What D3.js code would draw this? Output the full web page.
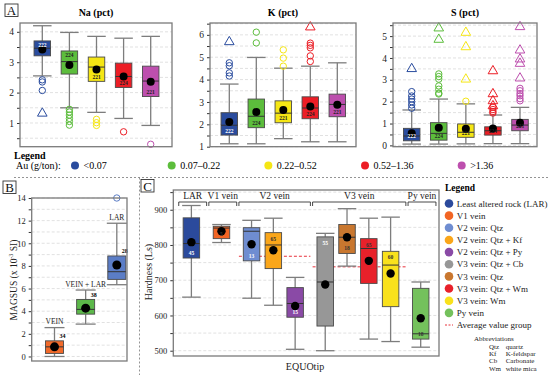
<!DOCTYPE html>
<html>
<head>
<meta charset="utf-8">
<script src="https://cdn.jsdelivr.net/npm/d3@7"></script>
<style>
  body { margin: 0; background: #fff; }
</style>
</head>
<body>
<div id="chart"></div>
<script>
// ---- panel A: geochemistry by Au class ----
const auClasses = ['<0.07', '0.07–0.22', '0.22–0.52', '0.52–1.36', '>1.36']
const auColors = ['#2a4c9e', '#5cbd3c', '#f5e614', '#ec1d25', '#bd4fae']
const auCounts = [222, 224, 221, 224, 221]

// [whisker low, Q1, median, Q3, whisker high, mean]
const naStats = [
  [2.55, 3.21, 3.46, 3.70, 4.20, 3.42],
  [1.50, 2.61, 3.02, 3.37, 3.98, 2.91],
  [1.35, 2.37, 2.84, 3.17, 3.85, 2.76],
  [1.15, 2.17, 2.53, 2.97, 3.79, 2.53],
  [0.92, 1.87, 2.38, 2.87, 3.85, 2.36]
]
const naOutliers = [[2.42, 2.35, 2.07], [1.45, 1.36, 1.26, 1.15, 1.05, 0.93], [1.12, 1.01, 0.92], [0.71], [0.30]]
const naExtremes = [[1.35], [], [], [], []]

const kStats = [
  [1.13, 1.52, 1.96, 2.52, 3.80, 2.10],
  [1.13, 1.85, 2.36, 3.13, 4.99, 2.55],
  [1.36, 2.07, 2.50, 3.05, 4.51, 2.64],
  [1.22, 2.25, 2.73, 3.23, 4.60, 2.80],
  [1.22, 2.34, 2.89, 3.35, 4.75, 2.87]
]
const kOutliers = [[4.75, 4.62, 4.30, 4.16], [6.12, 5.64], [5.33, 4.96, 4.60], [5.63, 5.53, 5.42, 5.06, 4.81], []]
const kExtremes = [[5.73], [], [], [6.39], []]

const sStats = [
  [0.06, 0.21, 0.43, 0.78, 1.62, 0.55],
  [0.06, 0.24, 0.55, 1.04, 2.12, 0.81],
  [0.07, 0.37, 0.60, 0.98, 1.90, 0.76],
  [0.08, 0.47, 0.67, 0.85, 1.39, 0.77],
  [0.08, 0.67, 0.93, 1.19, 1.74, 1.04]
]
const sOutliers = [[2.46, 2.26, 2.12, 2.00, 1.85, 1.70], [3.27, 3.15, 3.03, 2.72, 2.57, 2.39, 2.35], [2.02],
  [1.74, 1.64, 1.55, 1.48], [2.61, 2.50, 2.37, 2.27, 2.14, 2.04]]
const sExtremes = [[3.55], [5.41, 4.89], [5.21, 4.55, 3.07], [3.45, 2.40, 2.08, 1.85], [5.47, 4.40, 3.99, 3.79, 3.12]]

// ---- panel B: magnetic susceptibility ----
const magGroups = ['VEIN', 'VEIN + LAR', 'LAR']
const magColors = ['#f26a2a', '#5cb84a', '#5b7dc6']
const magCounts = [34, 38, 28]
const magStats = [
  [0.00, 0.27, 0.85, 1.38, 2.55, 0.85],
  [2.86, 3.74, 4.16, 5.04, 5.87, 4.27],
  [6.34, 6.81, 7.49, 8.88, 11.77, 8.08]
]
const magOutliers = [[], [], [14.0]]

// ---- panel C: EQUOtip hardness ----
const hardGroups = ['Least altered rock (LAR)', 'V1 vein', 'V2 vein: Qtz', 'V2 vein: Qtz + Kf', 'V2 vein: Qtz + Py',
  'V3 vein: Qtz + Cb', 'V3 vein: Qtz', 'V3 vein: Qtz + Wm', 'V3 vein: Wm', 'Py vein']
const hardColors = ['#2b4a9c', '#f26524', '#6f8dd1', '#faa61a', '#8a4aa6', '#979797', '#c9772f', '#e8212a', '#f9e11c', '#74c15c']
const hardVeins = ['LAR', 'V1 vein', 'V2 vein', 'V2 vein', 'V2 vein', 'V3 vein', 'V3 vein', 'V3 vein', 'V3 vein', 'Py vein']
const hardCounts = [45, 5, 13, 65, 15, 55, 18, 65, 60, 18]
const hardStats = [
  [652, 763, 804, 877, 912, 808],
  [807, 818, 848, 853, 858, 839],
  [649, 755, 839, 849, 870, 802],
  [629, 733, 800, 835, 876, 785],
  [504, 595, 634, 679, 708, 627],
  [500, 570, 695, 823, 833, 688],
  [740, 776, 822, 858, 903, 822],
  [533, 691, 790, 818, 876, 755],
  [526, 625, 743, 782, 879, 719],
  [510, 533, 548, 677, 695, 592]
]
const veinNames = ['LAR', 'V1 vein', 'V2 vein', 'V3 vein', 'Py vein']
const veinAverages = [null, null, 768, 738, null]
const abbrevs = [['Qtz', 'quartz'], ['Kf', 'K-feldspar'], ['Cb', 'Carbonate'], ['Wm', 'white mica']]

const serif = "'Liberation Serif', Tinos, 'Times New Roman', Times, serif"
const svg = d3.select('#chart').append('svg').attr('width', 550).attr('height', 375)
  .attr('font-family', serif)

function panelLabel(x, y, t) {
  svg.append('rect').attr('x', x).attr('y', y).attr('width', 13).attr('height', 12.5)
    .attr('fill', '#fff').attr('stroke', '#333').attr('stroke-width', 0.9)
  svg.append('text').attr('x', x + 6.5).attr('y', y + 11).attr('text-anchor', 'middle')
    .attr('font-size', 13).attr('fill', '#111').text(t)
}

function yAxis(g, y, x0, x1, values, fmt, fs) {
  g.append('g').selectAll('line').data(values).join('line')
    .attr('x1', x0).attr('x2', x1).attr('y1', d => y(d)).attr('y2', d => y(d))
    .attr('stroke', '#d4d4d4').attr('stroke-width', 0.7).attr('stroke-dasharray', '3,2')
  const ax = g.append('g').attr('transform', `translate(${x0},0)`)
    .call(d3.axisLeft(y).tickValues(values).tickSize(3).tickPadding(3).tickFormat(fmt))
  ax.attr('font-family', null).attr('font-size', null)
  ax.select('.domain').remove()
  ax.selectAll('line').attr('stroke', '#333')
  ax.selectAll('text').attr('font-size', fs).attr('fill', '#222')
}

function frame(g, x0, y0, x1, y1) {
  g.append('rect').attr('x', x0).attr('y', y0).attr('width', x1 - x0).attr('height', y1 - y0)
    .attr('fill', 'none').attr('stroke', '#7a7a7a').attr('stroke-width', 1.3)
}

function box(g, cx, y, s, color, w, dotR) {
  const [lo, q1, med, q3, hi, mean] = s
  const wh = g.append('g').attr('stroke', '#7d7d7d').attr('stroke-width', 1.3)
  wh.append('line').attr('x1', cx).attr('x2', cx).attr('y1', y(hi)).attr('y2', y(q3))
  wh.append('line').attr('x1', cx).attr('x2', cx).attr('y1', y(q1)).attr('y2', y(lo))
  wh.append('line').attr('x1', cx - w / 2 - 1).attr('x2', cx + w / 2 + 1).attr('y1', y(hi)).attr('y2', y(hi))
  wh.append('line').attr('x1', cx - w / 2 - 1).attr('x2', cx + w / 2 + 1).attr('y1', y(lo)).attr('y2', y(lo))
  g.append('rect').attr('x', cx - w / 2).attr('y', y(q3)).attr('width', w).attr('height', y(q1) - y(q3))
    .attr('fill', color).attr('stroke', '#4a4a4a').attr('stroke-width', 0.9)
  g.append('line').attr('x1', cx - w / 2).attr('x2', cx + w / 2).attr('y1', y(med)).attr('y2', y(med))
    .attr('stroke', '#333').attr('stroke-width', 1)
  g.append('circle').attr('cx', cx).attr('cy', y(mean)).attr('r', dotR).attr('fill', '#000')
}

function outliers(g, cx, y, vals, color, tri) {
  if (tri) {
    g.selectAll(null).data(vals).join('path')
      .attr('d', d3.symbol(d3.symbolTriangle, 40))
      .attr('transform', d => `translate(${cx},${y(d) + 1})`)
      .attr('fill', 'none').attr('stroke', color).attr('stroke-width', 1)
  } else {
    g.selectAll(null).data(vals).join('circle')
      .attr('cx', cx).attr('cy', d => y(d)).attr('r', 3.2)
      .attr('fill', 'none').attr('stroke', color).attr('stroke-width', 1)
  }
}

// ---------- Panel A ----------
panelLabel(5, 4, 'A')
const aPanels = [
  { title: 'Na (pct)', stats: naStats, out: naOutliers, ext: naExtremes, x0: 20, x1: 172, y0: 23, c: [42.3, 150.7], dom: [0.22, 4.29], ticks: d3.range(0.5, 4.01, 0.5), top: [0, 1] },
  { title: 'K (pct)', stats: kStats, out: kOutliers, ext: kExtremes, x0: 210, x1: 356, y0: 23, c: [229.3, 337.3], dom: [1, 6.53], ticks: d3.range(1, 6.51, 0.5), top: [] },
  { title: 'S (pct)', stats: sStats, out: sOutliers, ext: sExtremes, x0: 393, x1: 537, y0: 23, c: [411.7, 520], dom: [-0.06, 5.6], ticks: d3.range(0, 5.51, 0.5), top: [] }
]
aPanels.forEach(p => {
  const g = svg.append('g')
  const y = d3.scaleLinear().domain(p.dom).range([146.7, p.y0])
  const x = d3.scalePoint().domain(auClasses).range(p.c)
  yAxis(g, y, p.x0, p.x1, p.ticks, d => Number.isInteger(d) ? d : '', 9.5)
  g.append('text').attr('x', (p.x0 + p.x1) / 2).attr('y', 16).attr('text-anchor', 'middle')
    .attr('font-size', 10).attr('font-weight', 'bold').text(p.title)
  auClasses.forEach((k, i) => {
    const cx = x(k)
    box(g, cx, y, p.stats[i], auColors[i], 16.5, 4)
    outliers(g, cx, y, p.out[i], auColors[i], false)
    outliers(g, cx, y, p.ext[i], auColors[i], true)
    const s = p.stats[i]
    const atTop = p.top.includes(i)
    g.append('text').attr('x', cx).attr('y', atTop ? y(s[3]) + 6.5 : y(s[1]) - 2.5)
      .attr('text-anchor', 'middle').attr('font-size', 5.5).attr('font-weight', 'bold')
      .attr('fill', i === 0 ? '#fff' : '#222').text(auCounts[i])
  })
  frame(g, p.x0, p.y0, p.x1, 146.7)
})

// legend A
svg.append('text').attr('x', 14).attr('y', 158.5).attr('font-size', 10).attr('font-weight', 'bold').text('Legend')
svg.append('text').attr('x', 16).attr('y', 168.5).attr('font-size', 10).text('Au (g/ton):')
const auLegX = d3.scalePoint().domain(auClasses).range([75, 461.7])
auClasses.forEach((k, i) => {
  svg.append('circle').attr('cx', auLegX(k)).attr('cy', 165.5).attr('r', 4).attr('fill', auColors[i])
  svg.append('text').attr('x', auLegX(k) + 8.5).attr('y', 168.8).attr('font-size', 10).text(k)
})

// separators
svg.append('line').attr('x1', 14).attr('x2', 548).attr('y1', 177.5).attr('y2', 177.5)
  .attr('stroke', '#888').attr('stroke-width', 0.9).attr('stroke-dasharray', '2,2')
svg.append('line').attr('x1', 139.5).attr('x2', 139.5).attr('y1', 177.5).attr('y2', 375)
  .attr('stroke', '#888').attr('stroke-width', 0.9).attr('stroke-dasharray', '2,2')

// ---------- Panel B ----------
panelLabel(3, 181, 'B')
{
  const g = svg.append('g')
  const x0 = 31.7, x1 = 127, y0 = 198, y1 = 361
  const y = d3.scaleLinear().domain([-0.4, 14.0]).range([y1, y0])
  const x = d3.scalePoint().domain(magGroups).range([54.5, 116.8])
  yAxis(g, y, x0, x1, d3.range(0, 14.1, 1), d => d % 2 === 0 ? d : '', 8.5)
  magGroups.forEach((k, i) => {
    const cx = x(k), s = magStats[i]
    box(g, cx, y, s, magColors[i], 18, 4.5)
    outliers(g, cx, y, magOutliers[i], magColors[i], false)
    g.append('text').attr('x', cx).attr('y', y(s[4]) - 3.5).attr('text-anchor', 'middle')
      .attr('font-size', 7.5).attr('fill', '#222').text(k)
    g.append('text').attr('x', cx + 5).attr('y', y(s[3]) - 2.5).attr('font-size', 6)
      .attr('font-weight', 'bold').text(magCounts[i])
  })
  frame(g, x0, y0, x1, y1)
  g.append('text').attr('transform', 'translate(17,280) rotate(-90)').attr('text-anchor', 'middle')
    .attr('font-size', 9.5).attr('fill', '#222')
    .call(t => {
      t.append('tspan').text('MAGSUS (x 10')
      t.append('tspan').attr('font-size', 6).attr('dy', -4).text('-3')
      t.append('tspan').attr('dy', 4).text(' SI)')
    })
}

// ---------- Panel C ----------
panelLabel(141, 179.5, 'C')
{
  const g = svg.append('g')
  const x0 = 173.3, x1 = 439, y0 = 190, y1 = 356
  const y = d3.scaleLinear().domain([485, 956]).range([y1, y0])
  const x = d3.scaleLinear().domain([-0.83, 11.36]).range([x0, x1])
  const pos = hardGroups.map((k, i) => i + 0.38 * veinNames.indexOf(hardVeins[i]))
  yAxis(g, y, x0, x1, d3.range(500, 951, 50), d => d % 100 === 0 ? d : '', 8.5)

  // group brackets and average lines (behind the boxes)
  veinNames.forEach((v, j) => {
    const idx = hardVeins.map((h, i) => h === v ? i : -1).filter(i => i >= 0)
    const a = x(pos[idx[0]] - 0.58), b = x(pos[idx[idx.length - 1]] + 0.7)
    g.append('path').attr('d', `M${a},206V202H${b}V206`).attr('fill', 'none')
      .attr('stroke', '#333').attr('stroke-width', 0.9)
    g.append('text').attr('x', (a + b) / 2).attr('y', 198.5).attr('text-anchor', 'middle')
      .attr('font-size', 9.5).attr('fill', '#222').text(v)
    if (veinAverages[j] != null) {
      g.append('line').attr('x1', a).attr('x2', b).attr('y1', y(veinAverages[j])).attr('y2', y(veinAverages[j]))
        .attr('stroke', '#e8323c').attr('stroke-width', 1).attr('stroke-dasharray', '3,2')
    }
  })

  const countTop = [false, false, false, true, false, true, false, true, true, false]
  const lightText = [true, false, true, false, true, true, false, false, false, false]
  hardGroups.forEach((k, i) => {
    const cx = x(pos[i]), s = hardStats[i]
    box(g, cx, y, s, hardColors[i], 16.5, 4.2)
    g.append('text').attr('x', cx).attr('y', countTop[i] ? y(s[3]) + 8 : y(s[1]) - 3)
      .attr('text-anchor', 'middle').attr('font-size', 5.5).attr('font-weight', 'bold')
      .attr('fill', lightText[i] ? '#fff' : '#333').text(hardCounts[i])
  })
  frame(g, x0, y0, x1, y1)
  g.append('text').attr('transform', 'translate(152,272) rotate(-90)').attr('text-anchor', 'middle')
    .attr('font-size', 10).attr('fill', '#222').text('Hardness (Ls)')
  g.append('text').attr('x', 305).attr('y', 369.5).attr('text-anchor', 'middle')
    .attr('font-size', 10).attr('fill', '#222').text('EQUOtip')

  // legend C
  const lg = svg.append('g')
  lg.append('text').attr('x', 445).attr('y', 190.5).attr('font-size', 9.5).attr('font-weight', 'bold').text('Legend')
  const ly = d3.scalePoint().domain([...hardGroups, 'avg']).range([203.5, 325])
  hardGroups.forEach((k, i) => {
    lg.append('circle').attr('cx', 449).attr('cy', ly(k)).attr('r', 4.3).attr('fill', hardColors[i])
    lg.append('text').attr('x', 456.7).attr('y', ly(k) + 3.2).attr('font-size', 9).attr('fill', '#222').text(k)
  })
  lg.append('line').attr('x1', 445).attr('x2', 453).attr('y1', ly('avg')).attr('y2', ly('avg'))
    .attr('stroke', '#e8323c').attr('stroke-width', 1).attr('stroke-dasharray', '2,1.5')
  lg.append('text').attr('x', 456.7).attr('y', ly('avg') + 3.2).attr('font-size', 9).attr('fill', '#222')
    .text('Average value group')
  lg.append('text').attr('x', 474).attr('y', 340.5).attr('font-size', 7).attr('fill', '#222').text('Abbreviations')
  abbrevs.forEach(([a, b], i) => {
    lg.append('text').attr('x', 489).attr('y', 348.5 + i * 7.4).attr('font-size', 7).attr('fill', '#222').text(a)
    lg.append('text').attr('x', 505.7).attr('y', 348.5 + i * 7.4).attr('font-size', 7).attr('fill', '#222').text(b)
  })
}
</script>
</body>
</html>
